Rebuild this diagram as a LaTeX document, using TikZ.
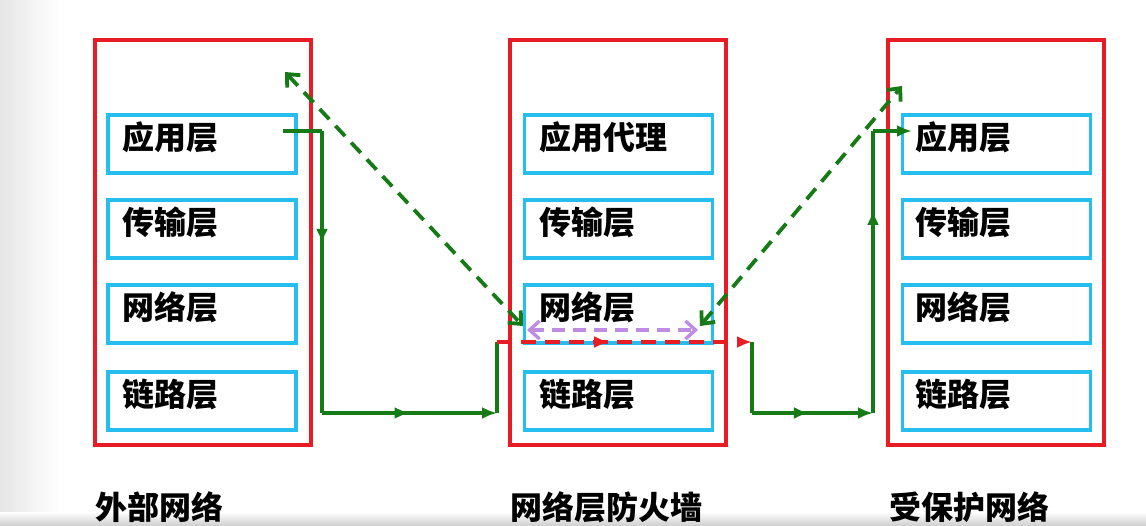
\documentclass[tikz,border=0pt]{standalone}
\usepackage{fontspec}
\newfontfamily\cjk{Noto Sans CJK SC}
\usetikzlibrary{arrows.meta,decorations.markings}
\definecolor{rd}{RGB}{232,28,36}
\definecolor{bl}{RGB}{38,190,238}
\definecolor{gn}{RGB}{22,122,22}
\definecolor{pp}{RGB}{190,140,225}
\tikzset{
  sys/.style={draw=rd, line width=3.8pt, minimum width=216pt, minimum height=405pt, inner sep=0pt},
  layer/.style={draw=bl, line width=3.8pt, minimum width=188pt, minimum height=58pt, inner sep=0pt},
  txt/.style={font=\cjk\bfseries\fontsize{32}{36}\selectfont, inner sep=0pt, anchor=west},
  flow/.style={draw=gn, line width=3.6pt},
  tip/.style={-{Latex[length=15pt,width=12pt]}},
  midarrow/.style={postaction={decorate}, decoration={markings, mark=at position #1 with {\arrow{Latex[length=15pt,width=12pt]}}}},
  redflow/.style={draw=rd, line width=3.8pt, dash pattern=on 15pt off 9pt},
  diag/.style={draw=gn, line width=3.8pt, dash pattern=on 14pt off 9pt, {Straight Barb[length=10pt,width=18pt,line width=3.8pt]}-{Straight Barb[length=10pt,width=18pt,line width=3.8pt]}},
  purp/.style={draw=pp, line width=3.4pt, dash pattern=on 13pt off 8pt, {Straight Barb[length=10pt,width=18pt]}-{Straight Barb[length=10pt,width=18pt]}}
}
\begin{document}
\begin{tikzpicture}[x=1pt,y=-1pt]
\useasboundingbox (0,0) rectangle (1146,525);
\fill[white] (0,0) rectangle (1146,525);
\shade[left color=black!10, right color=white] (0,0) rectangle (60,525);
\shade[top color=white, bottom color=black!18] (0,512) rectangle (1146,525);

% systems
\node[sys] (A) at (203,242.5) {};
\node[sys] (B) at (618,242.5) {};
\node[sys] (C) at (996,242.5) {};

% layers
\foreach \n/\x in {a/202,b/618.5,c/996.5}{
  \foreach \i/\y in {1/144,2/229,3/314,4/401}{
    \node[layer] (\n\i) at (\x,\y) {};
  }
}
\node[txt] (ta1) at ([xshift=16pt,yshift=7pt]a1.west) {应用层};
\node[txt] (ta2) at ([xshift=16pt,yshift=7pt]a2.west) {传输层};
\node[txt] (ta3) at ([xshift=16pt,yshift=7pt]a3.west) {网络层};
\node[txt] (ta4) at ([xshift=16pt,yshift=7pt]a4.west) {链路层};
\node[txt] (tb1) at ([xshift=17pt,yshift=7pt]b1.west) {应用代理};
\node[txt] (tb2) at ([xshift=17pt,yshift=7pt]b2.west) {传输层};
\node[txt] (tb3) at ([xshift=17pt,yshift=7pt]b3.west) {网络层};
\node[txt] (tb4) at ([xshift=17pt,yshift=7pt]b4.west) {链路层};
\node[txt] (tc1) at ([xshift=15pt,yshift=7pt]c1.west) {应用层};
\node[txt] (tc2) at ([xshift=15pt,yshift=7pt]c2.west) {传输层};
\node[txt] (tc3) at ([xshift=15pt,yshift=7pt]c3.west) {网络层};
\node[txt] (tc4) at ([xshift=15pt,yshift=7pt]c4.west) {链路层};

% bottom captions
\node[txt] (capA) at (95,507) {外部网络};
\node[txt] (capB) at (510,507) {网络层防火墙};
\node[txt] (capC) at (889,507) {受保护网络};

% flow coordinates
\coordinate (s1) at (283,131);
\coordinate (p1) at (322,131);
\coordinate (p2) at (322,413);
\coordinate (p3) at (497,413);
\coordinate (p4) at (497,342);
\coordinate (p5) at (752,342);
\coordinate (p6) at (752,413);
\coordinate (p7) at (873,413);
\coordinate (p8) at (873,131);
\coordinate (e1) at (912,131);

\draw[flow] (s1) -- (p1);
\draw[flow, midarrow=0.40] (p1) -- (p2);
\draw[flow, midarrow=0.50, tip] (p2) -- (p3);
\draw[flow] (p3) -- (p4);
\draw[redflow, midarrow=0.44, -{Latex[length=15pt,width=12pt]}] (p4) -- (p5);
\draw[flow] (p5) -- (p6);
\draw[flow, midarrow=0.47, tip] (p6) -- (p7);
\draw[flow, midarrow=0.72] (p7) -- (p8);
\draw[flow, tip] (p8) -- (e1);

% dashed diagonals
\coordinate (d1) at (285,72);
\coordinate (d2) at (523,326);
\coordinate (d3) at (700,326);
\coordinate (d4) at (902,86);
\draw[diag] (d1) -- (d2);
\draw[diag] (d3) -- (d4);

% purple
\coordinate (q1) at (527,330);
\coordinate (q2) at (698,330);
\draw[purp] (q1) -- (q2);
\end{tikzpicture}
\end{document}
